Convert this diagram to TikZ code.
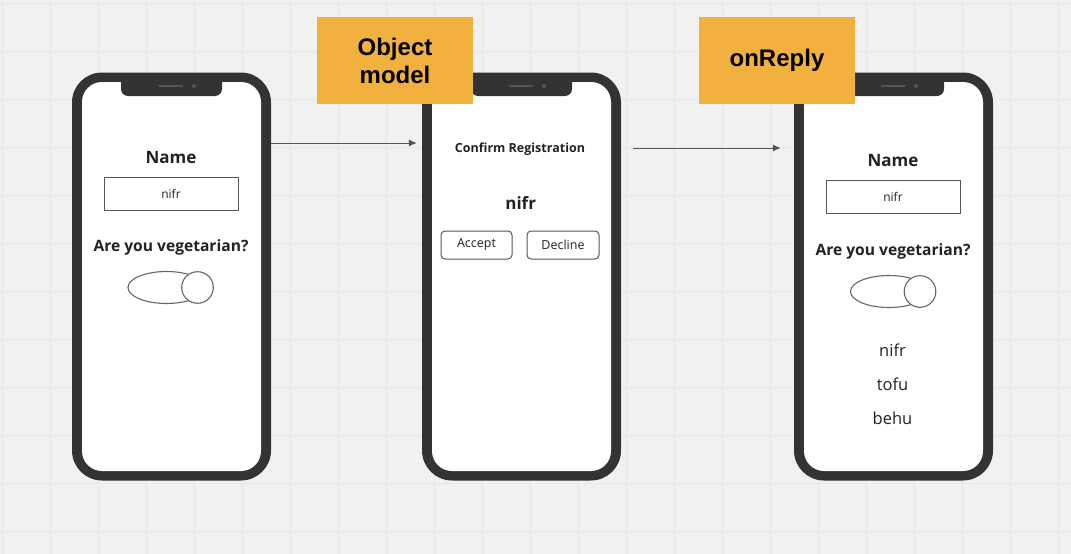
\documentclass[tikz,border=0pt]{standalone}
\usepackage{fontspec}
\setmainfont{Open Sans}
\newfontfamily\tagfont{Liberation Sans}
\usetikzlibrary{arrows.meta}

\definecolor{frame}{HTML}{333333}
\definecolor{bg}{HTML}{F1F1F1}
\definecolor{gridc}{HTML}{E7E7E7}
\definecolor{tagc}{HTML}{F2B13E}
\definecolor{ink}{HTML}{222222}
\definecolor{wire}{HTML}{555555}

\begin{document}
\begin{tikzpicture}[x=1pt,y=-1pt,
  phone/.style={fill=frame,rounded corners=30pt,minimum width=199pt,minimum height=408pt,inner sep=0pt},
  screen/.style={fill=white,rounded corners=20pt,minimum width=179pt,minimum height=389pt,inner sep=0pt},
  title/.style={anchor=base,font=\fontsize{17}{20}\selectfont\bfseries,text=ink},
  ask/.style={anchor=base,font=\fontsize{15.6}{18}\selectfont\bfseries,text=ink},
  field/.style={draw=wire,line width=1pt,minimum width=134pt,minimum height=33pt,inner sep=0pt,font=\fontsize{12}{14}\selectfont,text=ink},
  button/.style={draw=wire,line width=1pt,rounded corners=4pt,minimum height=28pt,inner sep=0pt,font=\fontsize{12.5}{14}\selectfont,text=ink},
  item/.style={anchor=base,font=\fontsize{16.5}{20}\selectfont,text=ink},
  toggle/.style={draw=wire!90,line width=1.1pt},
  tagbox/.style={fill=tagc,minimum width=156pt,minimum height=87pt,align=center,font=\tagfont\fontsize{24}{28}\selectfont\bfseries},
  flow/.style={draw=wire,line width=1pt,-{Latex[length=8pt,width=7pt]}}
]

\useasboundingbox (0,0) rectangle (1071,554);
\fill[bg] (0,0) rectangle (1071,554);
\foreach \x in {2,50,...,1070} \draw[gridc,line width=0.7pt] (\x,0) -- (\x,554);
\foreach \y in {3,51,...,553} \draw[gridc,line width=0.7pt] (0,\y) -- (1071,\y);

% phones
\foreach \n/\cx in {1/171.5,2/521.5,3/893.5}{
  \node[phone] (p\n) at (\cx,276.5) {};
  \node[screen] (s\n) at (\cx,276.5) {};
  \fill[frame,rounded corners=7pt] (\cx-50.5,75) -- (\cx-50.5,96) -- (\cx+50.5,96) -- (\cx+50.5,75) -- cycle;
  \draw[wire,line width=1.8pt] (\cx-12.5,86) -- (\cx+11.5,86);
  \fill[wire] (\cx+22.5,86) circle (2);
}

% first screen
\node[title] (name1) at (171,163) {Name};
\node[field] (field1) at (171,193.5) {nifr};
\node[ask] (ask1) at (171,251) {Are you vegetarian?};
\draw[toggle] (166.5,287.5) ellipse (38.5 and 16);
\draw[toggle,fill=white] (197.5,287.5) circle (15.8);

% second screen
\node[title,font=\fontsize{12.5}{14}\selectfont\bfseries] (confirm) at (520,152.7) {Confirm Registration};
\node[title] (who) at (520.7,209) {nifr};
\node[button,minimum width=71pt] (accept) at (476.5,245) {Accept};
\node[button,minimum width=72pt] (decline) at (563,245) {Decline};

% third screen
\node[title] (name3) at (893,166.5) {Name};
\node[field] (field3) at (893,197) {nifr};
\node[ask] (ask3) at (893,255) {Are you vegetarian?};
\draw[toggle] (889,291.5) ellipse (38.5 and 16);
\draw[toggle,fill=white] (920,291.5) circle (15.8);
\node[item] (r1) at (892.5,356.7) {nifr};
\node[item] (r2) at (892.5,390.7) {tofu};
\node[item] (r3) at (892.5,424) {behu};

% arrows
\coordinate (a1) at (0,143);
\coordinate (a2) at (0,148);
\draw[flow,shorten >=5pt] (p1.east |- a1) -- (p2.west |- a1);
\draw[flow,shorten <=12pt,shorten >=13pt] (p2.east |- a2) -- (p3.west |- a2);

\node[tagbox] (obj) at (395,60.5) {Object\\model};
\node[tagbox] (reply) at (777,60.5) {onReply};

\end{tikzpicture}
\end{document}
